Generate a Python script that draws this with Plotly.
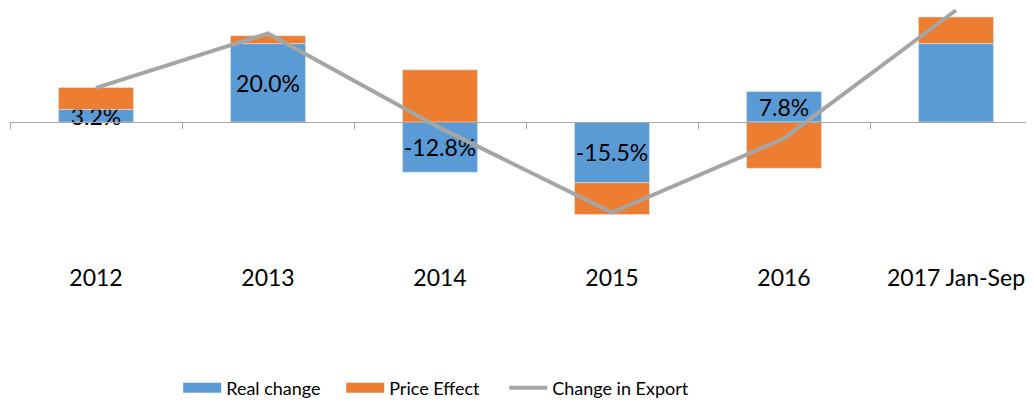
import plotly.graph_objects as go

categories = ["2012", "2013", "2014", "2015", "2016", "2017 Jan-Sep"]
real_change = [3.2, 20.0, -12.8, -15.5, 7.8, 20.0]
price_effect = [5.6, 2.0, 13.3, -8.1, -11.8, 6.8]
change_in_export = [8.7, 22.6, -1.5, -23.1, -4.2, 28.5]
real_labels = ["3.2%", "20.0%", "-12.8%", "-15.5%", "7.8%", ""]

FONT = "Lato"
BLUE = "#5B9BD5"
ORANGE = "#ED7D31"
GRAY = "#A5A5A5"

fig = go.Figure()
fig.add_trace(go.Bar(
    x=categories, y=real_change, name="Real change",
    marker=dict(color=BLUE), showlegend=False, legendgroup="real",
    text=real_labels, textposition="inside", insidetextanchor="middle",
    constraintext="none", textangle=0,
    insidetextfont=dict(family=FONT, size=23, color="black"),
    cliponaxis=False,
))
fig.add_trace(go.Bar(
    x=categories, y=price_effect, name="Price Effect",
    marker=dict(color=ORANGE), showlegend=False, legendgroup="price",
))
fig.add_trace(go.Scatter(
    x=categories, y=change_in_export, name="Change in Export",
    mode="lines", line=dict(color=GRAY, width=4),
    xaxis="x2", yaxis="y", cliponaxis=False, showlegend=False,
    legendgroup="export",
))
# legend entries (swatches only)
for nm, col, w, grp in [("Real change", BLUE, 14, "real"),
                        ("Price Effect", ORANGE, 14, "price"),
                        ("Change in Export", GRAY, 4, "export"),
                        (" ", "rgba(0,0,0,0)", 0, "spacer")]:
    fig.add_trace(go.Scatter(
        x=[None], y=[None], name=nm, mode="lines",
        line=dict(color=col, width=w), legendgroup=grp, showlegend=True,
        hoverinfo="skip",
    ))

ymin, ymax = -35.71, 29.08
xr = [-0.5, 5.5]
fig.update_layout(
    width=1034, height=404,
    margin=dict(l=2, r=0, t=0, b=150),
    paper_bgcolor="white", plot_bgcolor="white",
    barmode="relative", bargap=0.564,
    font=dict(family=FONT, size=23, color="black"),
    xaxis=dict(
        type="category", range=xr, showline=False, ticks="",
        showgrid=False, zeroline=False,
        tickfont=dict(family=FONT, size=23, color="black"),
    ),
    xaxis2=dict(
        type="category", overlaying="x", anchor="free",
        position=(0 - ymin) / (ymax - ymin), range=xr,
        showline=True, linecolor="#A6A6A6", linewidth=1.3,
        ticks="outside", ticklen=6, tickcolor="#A6A6A6", tickwidth=1.3,
        tickson="boundaries", showticklabels=False, showgrid=False,
    ),
    yaxis=dict(range=[ymin, ymax], visible=False, showgrid=False, zeroline=False),
    showlegend=True,
    legend=dict(
        orientation="h", x=0.163, xanchor="left", y=-0.496, yanchor="middle",
        font=dict(family=FONT, size=18, color="black"),
        traceorder="normal", itemwidth=38, entrywidth=110, entrywidthmode="pixels",
    ),
)

fig.write_html("out.html")
